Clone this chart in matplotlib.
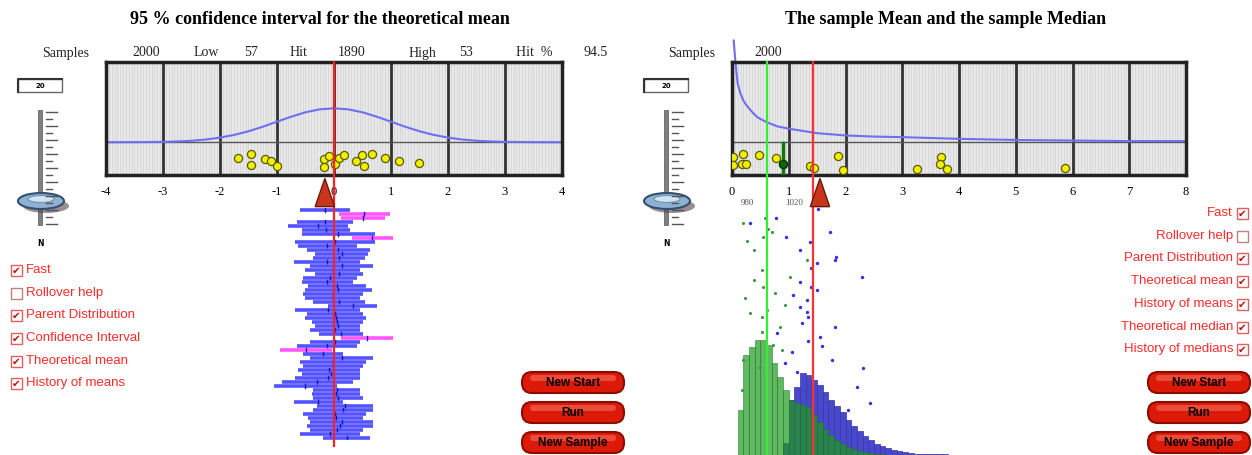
import matplotlib
matplotlib.use("Agg")
import matplotlib.pyplot as plt
import numpy as np
from matplotlib.patches import Rectangle, FancyBboxPatch, Ellipse, Polygon
import matplotlib.transforms as mtransforms

W, H = 1252, 455
SERIF = "Liberation Serif"
SANS = "Liberation Sans"

# ---------------- left panel: 95 % CI for the theoretical mean ----------------
left_title = "95 % confidence interval for the theoretical mean"
left_header = ["Samples", "2000", "Low", "57", "Hit", "1890", "High", "53", "Hit  %", "94.5"]
left_ticks = [-4, -3, -2, -1, 0, 1, 2, 3, 4]
left_curve_x = [-4, -3.5, -3, -2.75, -2.5, -2.25, -2, -1.75, -1.5, -1.25, -1, -0.75, -0.5, -0.25,
                0, 0.25, 0.5, 0.75, 1, 1.25, 1.5, 1.75, 2, 2.25, 2.5, 2.75, 3, 3.5, 4]
left_curve_y = [0.29, 0.291, 0.293, 0.297, 0.303, 0.314, 0.331, 0.355, 0.387, 0.427, 0.472, 0.516, 0.555, 0.581,
                0.59, 0.581, 0.555, 0.516, 0.472, 0.427, 0.387, 0.355, 0.331, 0.314, 0.303, 0.297, 0.293, 0.291, 0.29]
left_dots_x = [-1.69, -1.46, -1.45, -1.21, -1.11, -1.00, -0.18, -0.18, -0.08, 0.01,
               0.08, 0.17, 0.39, 0.49, 0.53, 0.66, 0.90, 1.14, 1.49]
left_dots_y = [0.15, 0.19, 0.09, 0.14, 0.12, 0.08, 0.14, 0.07, 0.17, 0.10,
               0.15, 0.18, 0.12, 0.18, 0.08, 0.19, 0.15, 0.12, 0.11]
left_theo_mean = 0.0
left_sample_mean = -0.16
ci_low = [-0.60, 0.09, 0.13, -0.65, -0.80, -0.57, -0.57, 0.31, -0.68, -0.63,
          -0.48, -0.33, -0.36, -0.71, -0.42, -0.51, -0.33, -0.54, -0.57, -0.45,
          -0.51, -0.54, -0.51, -0.36, -0.10, -0.68, -0.48, -0.51, -0.39, -0.33,
          -0.42, -0.27, 0.13, -0.42, -0.65, -0.95, -0.54, -0.42, -0.60, -0.54,
          -0.63, -0.57, -0.68, -0.92, -1.06, -0.36, -0.39, -0.36, -0.71, -0.30,
          -0.36, -0.54, -0.45, -0.42, -0.48, -0.42, -0.60, -0.19]
ci_high = [0.28, 0.98, 0.89, 0.34, 0.25, 0.28, 0.72, 1.04, 0.72, 0.40,
           0.63, 0.60, 0.54, 0.46, 0.69, 0.46, 0.51, 0.40, 0.34, 0.57,
           0.66, 0.51, 0.46, 0.54, 0.75, 0.46, 0.51, 0.57, 0.51, 0.46,
           0.46, 0.51, 1.04, 0.46, 0.40, -0.04, 0.16, 0.69, 0.57, 0.51,
           0.46, 0.46, 0.46, 0.34, 0.05, 0.46, 0.46, 0.51, 0.16, 0.69,
           0.69, 0.57, 0.51, 0.69, 0.69, 0.51, 0.46, 0.63]
left_checks = ["Fast", "Rollover help", "Parent Distribution", "Confidence Interval",
               "Theoretical mean", "History of means"]
left_checked = [True, False, True, True, True, True]

# ---------------- right panel: sample mean and sample median ----------------
right_title = "The sample Mean and the sample Median"
right_header = ["Samples", "2000"]
right_ticks = [0, 1, 2, 3, 4, 5, 6, 7, 8]
right_curve_x = [0.03, 0.06, 0.1, 0.15, 0.2, 0.25, 0.35, 0.45, 0.6, 0.8, 1.0, 1.25, 1.5, 2, 2.5, 3, 4, 5, 6, 7, 8]
right_curve_y = [1.19, 1.0, 0.81, 0.72, 0.66, 0.62, 0.56, 0.51, 0.47, 0.43, 0.41, 0.39, 0.37, 0.35, 0.34,
                 0.335, 0.32, 0.31, 0.305, 0.30, 0.30]
right_dots_x = [0.02, 0.02, 0.19, 0.18, 0.25, 0.48, 0.77, 1.37, 1.45, 1.87, 1.96, 3.26, 3.68, 3.67, 3.79, 5.87]
right_dots_y = [0.16, 0.09, 0.19, 0.10, 0.10, 0.18, 0.15, 0.08, 0.06, 0.17, 0.04, 0.05, 0.16, 0.10, 0.05, 0.06]
right_theo_median = 0.61
right_theo_mean = 1.43
right_sample_median = 0.90
right_sample_mean = 1.55
hist_axis_labels = ["980", "1020"]
hist_bins = [0.1, 0.2, 0.3, 0.4, 0.5, 0.6, 0.7, 0.8, 0.9, 1.0, 1.1, 1.2, 1.3, 1.4, 1.5, 1.6, 1.7, 1.8, 1.9,
             2.0, 2.1, 2.2, 2.3, 2.4, 2.5, 2.6, 2.7, 2.8, 2.9, 3.0, 3.1, 3.2, 3.3, 3.4, 3.5, 3.6, 3.7]
median_counts = [45, 100, 108, 115, 115, 110, 92, 78, 65, 55, 52, 50, 48, 40, 33, 26, 20, 15, 11,
                 8, 6, 4, 3, 2, 1, 1, 0, 0, 0, 0, 0, 0, 0, 0, 0, 0, 0]
mean_counts = [0, 0, 0, 0, 0, 0, 0, 0, 12, 55, 68, 82, 80, 75, 70, 63, 55, 49, 43,
               35, 29, 24, 19, 15, 11, 9, 7, 5, 4, 3, 2, 1, 1, 1, 1, 1, 1]
median_hist_x = [0.20, 0.58, 0.64, 0.26, 0.55, 0.39, 0.70, 0.52, 0.38, 0.55, 1.02, 0.76, 0.23,
                 0.93, 0.32, 0.52, 0.85, 0.88, 0.20, 0.52, 0.17, 0.49, 0.73, 1.32, 0.61]
median_hist_y = [232, 237, 226, 214, 218, 205, 223, 185, 175, 168, 178, 162, 157,
                 150, 142, 138, 128, 105, 95, 123, 65, 88, 110, 195, 145]
mean_hist_x = [0.32, 0.78, 0.96, 1.20, 1.37, 1.73, 1.84, 1.81, 1.40, 1.49, 1.20, 1.40, 1.49, 1.08,
               1.32, 1.20, 2.29, 1.32, 1.34, 1.23, 1.81, 0.79, 1.34, 1.55, 1.58, 1.05, 0.93, 1.76,
               2.31, 2.20, 2.43, 1.14, 1.52, 2.04]
mean_hist_y = [232, 237, 218, 205, 213, 223, 198, 195, 187, 192, 173, 168, 165, 160,
               155, 148, 178, 143, 138, 132, 128, 122, 114, 118, 109, 103, 92, 95,
               87, 68, 52, 83, 246, 45]
right_checks = ["Fast", "Rollover help", "Parent Distribution", "Theoretical mean",
                "History of means", "Theoretical median", "History of medians"]
right_checked = [True, False, True, True, True, True, True]
buttons = ["New Start", "Run", "New Sample"]

fig = plt.figure(figsize=(W / 100, H / 100), dpi=100)


def px_axes(x0, y0, x1, y1):
    return fig.add_axes([x0 / W, 1 - y1 / H, (x1 - x0) / W, (y1 - y0) / H])


# overlay for widgets and text, in pixel coordinates
ui = fig.add_axes([0, 0, 1, 1])
ui.set_xlim(0, W)
ui.set_ylim(H, 0)
ui.axis("off")


def draw_slider(ox):
    ui.add_patch(Rectangle((ox + 18, 79), 44, 13, facecolor="white", edgecolor="#666666", lw=1))
    ui.plot([ox + 18, ox + 18, ox + 62], [92, 79, 79], color="#333333", lw=1.5)
    ui.text(ox + 40, 86, "20", fontsize=5, fontweight="bold", ha="center", va="center")
    ui.add_patch(Rectangle((ox + 38, 110), 4, 115, facecolor="#808080", edgecolor="#555555", lw=0.5))
    for i, yy in enumerate(range(112, 226, 7)):
        ui.plot([ox + 46, ox + (57 if i % 2 == 0 else 52)], [yy, yy], color="#555555", lw=1)
    ui.add_patch(Ellipse((ox + 46, 206), 46, 14, facecolor="#5a4050", alpha=0.6, lw=0))
    ui.add_patch(Ellipse((ox + 41, 201), 46, 16, facecolor="#8fb2d4", edgecolor="#33506e", lw=1.5))
    ui.add_patch(Ellipse((ox + 41, 199), 26, 7, facecolor="#d2e4f2", edgecolor="#6f8fb0", lw=0.8))
    ui.text(ox + 40, 243, "N", fontsize=5.5, fontweight="bold", ha="center", va="center")


def draw_check(x, y, checked):
    ui.add_patch(Rectangle((x, y - 5.5), 11, 11, facecolor="white",
                           edgecolor="#e06060" if checked else "#c08080", lw=1))
    if checked:
        ui.text(x + 5.5, y + 0.5, "\u2714", fontsize=7.5, color="#bb1111", ha="center", va="center",
                family="DejaVu Sans")


def draw_button(x, y, label):
    ui.add_patch(FancyBboxPatch((x, y), 102, 21, boxstyle="round,pad=0,rounding_size=10",
                                facecolor="#dd1a08", edgecolor="#8a0c00", lw=1.5))
    ui.add_patch(FancyBboxPatch((x + 8, y + 3), 86, 6, boxstyle="round,pad=0,rounding_size=3",
                                facecolor="#f06050", edgecolor="none", alpha=0.7))
    ui.text(x + 51, y + 11, label, fontsize=8.5, fontweight="bold", family=SANS,
            ha="center", va="center", color="black")


def draw_box(ax, xmin, xmax, ticks):
    ax.set_xlim(xmin, xmax)
    ax.set_ylim(0, 1)
    ax.set_facecolor("#e8e8e8")
    for v in np.arange(xmin, xmax, 0.05):
        ax.axvline(v, color="#d2d2d2", lw=0.5, zorder=0)
    for t in ticks:
        ax.axvline(t, color="#333333", lw=2, zorder=1)
    ax.axhline(0.29, color="#555555", lw=1, zorder=1)
    for s in ax.spines.values():
        s.set_linewidth(2.5)
        s.set_color("#222222")
    ax.set_yticks([])
    ax.set_xticks(ticks)
    ax.set_xticklabels([str(t) for t in ticks], family=SERIF, fontsize=9)
    ax.tick_params(axis="x", length=0, pad=8)


def draw_triangle(ax, xval, half):
    trans = mtransforms.blended_transform_factory(ax.transData, ax.transAxes)
    ax.add_patch(Polygon([(xval - half, -0.28), (xval + half, -0.28), (xval, -0.03)], closed=True,
                         facecolor="#c8341c", edgecolor="#6a1a0a", lw=1, transform=trans,
                         clip_on=False, zorder=5))


# ---------- left panel ----------
lo_ax = px_axes(106, 208, 562, 440)
lo_ax.set_xlim(-4, 4)
lo_ax.set_ylim(len(ci_low) - 0.5, -0.5)
lo_ax.axis("off")
for i, (a, b) in enumerate(zip(ci_low, ci_high)):
    miss = a > left_theo_mean or b < left_theo_mean
    lo_ax.plot([a, b], [i, i], color="#ff55ff" if miss else "#5252ff", lw=2.6, solid_capstyle="butt")
    lo_ax.plot([(a + b) / 2] * 2, [i - 0.55, i + 0.55], color="#1818b8", lw=1.0)

ax_l = px_axes(106, 62, 562, 175)
draw_box(ax_l, -4, 4, left_ticks)
ax_l.plot(left_curve_x, left_curve_y, color="#6f6ff2", lw=1.5, zorder=2)
ax_l.scatter(left_dots_x, left_dots_y, s=34, facecolor="#f2f000", edgecolor="#5a5a00", lw=0.9, zorder=3)
ax_l.axvline(left_theo_mean, ymin=-2.4, ymax=1, color="#ff2020", lw=1.6, clip_on=False, zorder=4)
draw_triangle(ax_l, left_sample_mean, 0.17)

# ---------- right panel ----------
hi_ax = px_axes(732, 205, 1186, 455)
hi_ax.set_xlim(0, 8)
hi_ax.set_ylim(0, 250)
hi_ax.axis("off")
hi_ax.bar(hist_bins, mean_counts, width=0.1, align="edge", color="#4848cc",
          edgecolor="#3434a8", lw=0.5)
hi_ax.bar(hist_bins, median_counts, width=0.1, align="edge", color="#1f9a1f", alpha=0.7,
          edgecolor="#1a7a1a", lw=0.5)
hi_ax.scatter(median_hist_x, median_hist_y, s=5, color="#3a9a3a", lw=0)
hi_ax.scatter(mean_hist_x, mean_hist_y, s=6, color="#3333e0", lw=0)

ax_r = px_axes(732, 62, 1186, 175)
draw_box(ax_r, 0, 8, right_ticks)
ax_r.plot(right_curve_x, right_curve_y, color="#6f6ff2", lw=1.5, zorder=2, clip_on=False)
ax_r.scatter(right_dots_x, right_dots_y, s=34, facecolor="#f2f000", edgecolor="#5a5a00", lw=0.9, zorder=3)
ax_r.plot([right_sample_median] * 2, [0.02, 0.28], color="#0a7a0a", lw=2.5, zorder=3)
ax_r.scatter([right_sample_median], [0.1], s=34, facecolor="#0a6a0a", edgecolor="#033303", zorder=4)
ax_r.axvline(right_theo_median, ymin=-2.5, ymax=1, color="#33ee33", lw=1.6, clip_on=False, zorder=4)
ax_r.axvline(right_theo_mean, ymin=-2.5, ymax=1, color="#ff3030", lw=1.6, clip_on=False, zorder=4)
draw_triangle(ax_r, right_sample_mean, 0.17)

# ---------- text and widgets ----------
ui.text(320, 20, left_title, family=SERIF, fontsize=13, fontweight="bold", ha="center", va="center")
ui.text(946, 20, right_title, family=SERIF, fontsize=13, fontweight="bold", ha="center", va="center")
for lbl, x in zip(left_header, [66, 146, 206, 251, 298, 352, 422, 466, 534, 596]):
    ui.text(x, 53, lbl, family=SERIF, fontsize=10, ha="center", va="center", color="#222222")
for lbl, x in zip(right_header, [692, 768]):
    ui.text(x, 53, lbl, family=SERIF, fontsize=10, ha="center", va="center", color="#222222")
for lbl, x in zip(hist_axis_labels, [747, 794]):
    ui.text(x, 203, lbl, family=SERIF, fontsize=6.5, ha="center", va="center", color="#555555")

draw_slider(0)
draw_slider(626)

for lbl, on, y in zip(left_checks, left_checked, [270, 293, 315, 338, 361, 383]):
    draw_check(11, y, on)
    ui.text(26, y, lbl, family=SANS, fontsize=9.5, color="#ff2a2a", ha="left", va="center")
for lbl, on, y in zip(right_checks, right_checked, [213, 236, 258, 281, 304, 327, 349]):
    draw_check(1237, y, on)
    ui.text(1233, y, lbl, family=SANS, fontsize=9.5, color="#ff2a2a", ha="right", va="center")

for lbl, y in zip(buttons, [372, 402, 432]):
    draw_button(522, y, lbl)
    draw_button(1148, y, lbl)

fig.savefig("out.png", dpi=100)
